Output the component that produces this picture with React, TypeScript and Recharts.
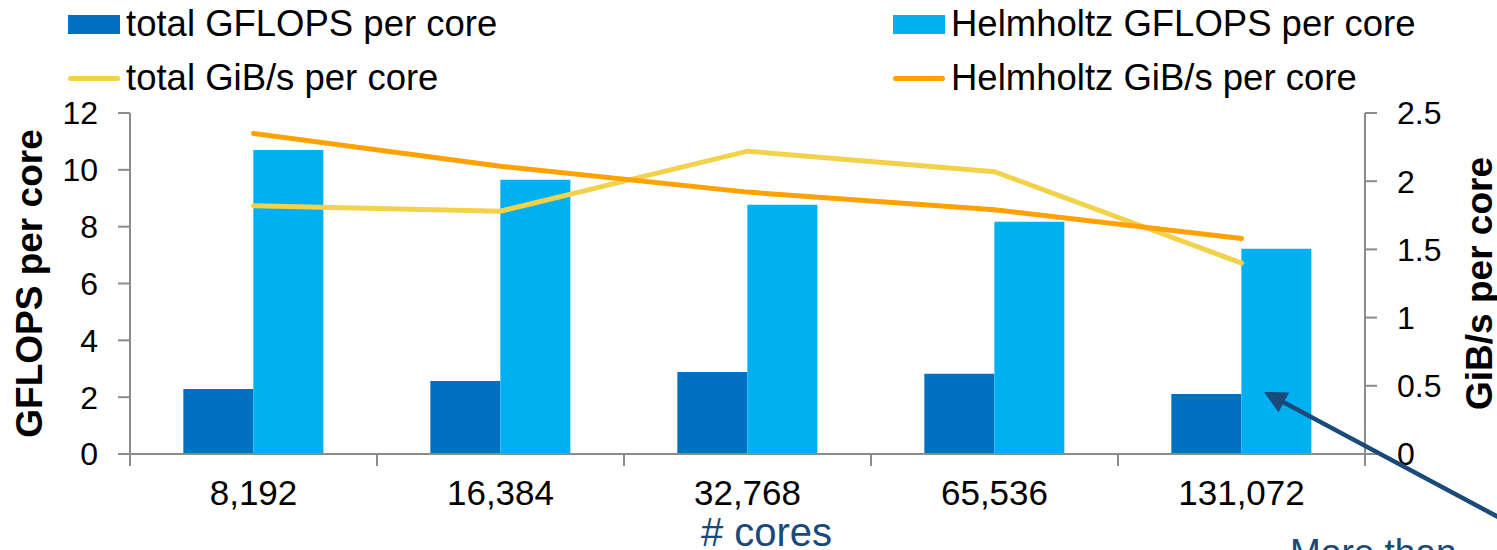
import { ComposedChart, Bar, Line, XAxis, YAxis, Legend } from 'recharts'

const FONT = '"Liberation Sans", Arial, sans-serif'
const AXIS = '#8C8C8C'
const NAVY = '#1A4A7A'

// values
const CORES = ['8,192', '16,384', '32,768', '65,536', '131,072']
const TOTAL_GFLOPS = [2.29, 2.57, 2.89, 2.82, 2.11]
const HELM_GFLOPS = [10.7, 9.65, 8.77, 8.17, 7.22]
const TOTAL_GIBS = [1.82, 1.78, 2.22, 2.07, 1.4]
const HELM_GIBS = [2.35, 2.11, 1.92, 1.79, 1.58]
const GFLOPS_TICKS = [0, 2, 4, 6, 8, 10, 12]
const GIBS_TICKS = [0, 0.5, 1, 1.5, 2, 2.5]

const SERIES = [
  { key: 'totalGflops', name: 'total GFLOPS per core', color: '#0070C0', kind: 'bar' },
  { key: 'helmGflops', name: 'Helmholtz GFLOPS per core', color: '#00B0F0', kind: 'bar' },
  { key: 'totalGibs', name: 'total GiB/s per core', color: '#F2D24B', kind: 'line' },
  { key: 'helmGibs', name: 'Helmholtz GiB/s per core', color: '#FFA100', kind: 'line' },
]

const data = CORES.map((c, i) => ({
  cores: c,
  totalGflops: TOTAL_GFLOPS[i],
  helmGflops: HELM_GFLOPS[i],
  totalGibs: TOTAL_GIBS[i],
  helmGibs: HELM_GIBS[i],
}))

function LegendBox() {
  return (
    <div style={{ position: 'relative', width: 1497, height: 113 }}>
      {SERIES.map((s, i) => {
        const col = i % 2
        const row = Math.floor(i / 2)
        return (
          <div
            key={s.key}
            style={{
              position: 'absolute',
              left: col ? 893 : 68,
              top: row ? 58 : 4,
              height: 40,
              display: 'flex',
              alignItems: 'center',
              fontFamily: FONT,
              fontSize: 36.5,
              lineHeight: '40px',
              color: '#000',
              whiteSpace: 'nowrap',
            }}
          >
            {s.kind === 'bar' ? (
              <span style={{ width: 52, height: 19, background: s.color, display: 'inline-block', marginRight: 6 }} />
            ) : (
              <span style={{ width: 52, height: 5, borderRadius: 3, background: s.color, display: 'inline-block', marginRight: 6 }} />
            )}
            <span>{s.name}</span>
          </div>
        )
      })}
    </div>
  )
}

function CoreTick(props: any) {
  const { x, y, payload, index, visibleTicksCount } = props
  const half = payload.offset ?? 0
  return (
    <g>
      <line x1={x - half} x2={x - half} y1={y} y2={y + 12} stroke={AXIS} strokeWidth={2} />
      {index === visibleTicksCount - 1 && (
        <line x1={x + half} x2={x + half} y1={y} y2={y + 12} stroke={AXIS} strokeWidth={2} />
      )}
      <text x={x} y={y + 51} textAnchor="middle" fontSize={35} fontFamily={FONT} fill="#000">
        {payload.value}
      </text>
    </g>
  )
}

function XTitle(props: any) {
  const vb = props.viewBox
  if (!vb) return null
  return (
    <text x={vb.x + vb.width / 2 + 19} y={vb.y + vb.height - 4} textAnchor="middle" fontSize={40} fontFamily={FONT} fill={NAVY}>
      # cores
    </text>
  )
}

function YTitle(props: any) {
  const vb = props.viewBox
  if (!vb) return null
  const x = vb.x + props.base
  const y = vb.y + vb.height / 2
  return (
    <text x={x} y={y} transform={`rotate(-90, ${x}, ${y})`} textAnchor="middle" fontSize={37} fontWeight="bold" fontFamily={FONT} fill="#000">
      {props.text}
    </text>
  )
}

export default function App() {
  return (
    <div style={{ position: 'absolute', left: 0, top: 0, width: 1497, height: 550, overflow: 'hidden', background: '#fff' }}>
      <ComposedChart
        width={1497}
        height={550}
        data={data}
        margin={{ top: 0, right: 0, bottom: 0, left: 0 }}
        barCategoryGap="21.6%"
        barGap={0}
      >
        <Legend verticalAlign="top" align="left" content={<LegendBox />} />
        <XAxis
          dataKey="cores"
          height={96}
          interval={0}
          axisLine={{ stroke: AXIS, strokeWidth: 2 }}
          tickLine={false}
          tickSize={0}
          tickMargin={0}
          tick={<CoreTick />}
          label={<XTitle />}
        />
        <YAxis
          yAxisId="l"
          width={130}
          domain={[0, 12]}
          ticks={GFLOPS_TICKS}
          axisLine={{ stroke: AXIS, strokeWidth: 2 }}
          tickLine={{ stroke: AXIS, strokeWidth: 2 }}
          tickSize={12}
          tickMargin={20}
          tick={{ fill: '#000', fontSize: 32, fontFamily: FONT }}
          label={<YTitle text="GFLOPS per core" base={42} />}
        />
        <YAxis
          yAxisId="r"
          orientation="right"
          width={132}
          domain={[0, 2.5]}
          ticks={GIBS_TICKS}
          axisLine={{ stroke: AXIS, strokeWidth: 2 }}
          tickLine={{ stroke: AXIS, strokeWidth: 2 }}
          tickSize={12}
          tickMargin={20}
          tick={{ fill: '#000', fontSize: 32, fontFamily: FONT }}
          label={<YTitle text="GiB/s per core" base={127} />}
        />
        {SERIES.filter(s => s.kind === 'bar').map(s => (
          <Bar key={s.key} yAxisId="l" dataKey={s.key} name={s.name} fill={s.color} isAnimationActive={false} />
        ))}
        {SERIES.filter(s => s.kind === 'line').map(s => (
          <Line
            key={s.key}
            yAxisId="r"
            type="linear"
            dataKey={s.key}
            name={s.name}
            stroke={s.color}
            strokeWidth={5}
            strokeLinecap="round"
            dot={false}
            activeDot={false}
            isAnimationActive={false}
          />
        ))}
      </ComposedChart>
      <svg width={1497} height={550} style={{ position: 'absolute', left: 0, top: 0, pointerEvents: 'none' }}>
        <defs>
          <marker id="head" markerWidth="5" markerHeight="5" refX="4" refY="2.5" orient="auto" markerUnits="strokeWidth">
            <path d="M0,0 L5,2.5 L0,5 Z" fill={NAVY} />
          </marker>
        </defs>
        <line x1={1515} y1={526} x2={1268} y2={394} stroke={NAVY} strokeWidth={4.5} markerEnd="url(#head)" />
        <text x={1290} y={565} fontSize={37} fontFamily={FONT} fill={NAVY}>More than</text>
      </svg>
    </div>
  )
}
